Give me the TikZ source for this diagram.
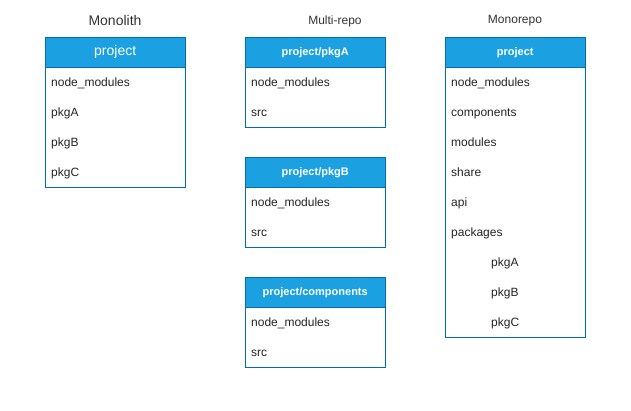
\documentclass[tikz,border=0pt]{standalone}
\usepackage{fontspec}
\setmainfont{Liberation Sans}
\usetikzlibrary{positioning}
\definecolor{lanefill}{HTML}{1BA1E2}
\definecolor{laneedge}{HTML}{006EAF}
\tikzset{
    caption/.style={inner sep=0pt, text=black!80, font=\fontsize{12}{14}\selectfont},
    lanehead/.style={rectangle, draw=laneedge, fill=lanefill, text=white, minimum width=140pt, minimum height=30pt, inner sep=0pt, font=\fontsize{11}{13}\selectfont\bfseries},
    lanebody/.style={rectangle, draw=laneedge, fill=white, minimum width=140pt, inner sep=0pt, anchor=north},
    entry/.style={anchor=base west, yshift=-4.3pt, inner sep=0pt, text=black!85, font=\fontsize{12}{14}\selectfont},
}
\newcommand{\drawLane}[5][]{
    % header at top-left corner #3, #4 rows below it
    \node[lanehead, anchor=north west, #1] (#2) at #3 {#5};
    \node[lanebody, minimum height=#4*30pt, below=0pt of #2] (#2body) {};
}

\begin{document}
\begin{tikzpicture}[x=1pt, y=-1pt]
    \useasboundingbox (0,0) rectangle (631,411);

    % Monolith
    \node[caption, font=\fontsize{14}{16}\selectfont] (monoTitle) at (115,21) {Monolith};
    \drawLane[font=\fontsize{14}{16}\selectfont]{mono}{(45,37)}{4}{project}
    \node[entry] (monoA) at (51,82) {node\_modules};
    \node[entry] (monoB) at (51,112) {pkgA};
    \node[entry] (monoC) at (51,142) {pkgB};
    \node[entry] (monoD) at (51,172) {pkgC};

    % Multi-repo
    \node[caption] (multiTitle) at (335,21) {Multi-repo};
    \drawLane{multiA}{(245,37)}{2}{project/pkgA}
    \node[entry] (multiAa) at (251,82) {node\_modules};
    \node[entry] (multiAb) at (251,112) {src};
    \drawLane{multiB}{(245,157)}{2}{project/pkgB}
    \node[entry] (multiBa) at (251,202) {node\_modules};
    \node[entry] (multiBb) at (251,232) {src};
    \drawLane{multiC}{(245,277)}{2}{project/components}
    \node[entry] (multiCa) at (251,322) {node\_modules};
    \node[entry] (multiCb) at (251,352) {src};

    % Monorepo
    \node[caption] (monorepoTitle) at (515,21) {Monorepo};
    \drawLane{repo}{(445,37)}{9}{project}
    \node[entry] (repoA) at (451,82) {node\_modules};
    \node[entry] (repoB) at (451,112) {components};
    \node[entry] (repoC) at (451,142) {modules};
    \node[entry] (repoD) at (451,172) {share};
    \node[entry] (repoE) at (451,202) {api};
    \node[entry] (repoF) at (451,232) {packages};
    \node[entry] (repoG) at (491,262) {pkgA};
    \node[entry] (repoH) at (491,292) {pkgB};
    \node[entry] (repoI) at (491,322) {pkgC};

\end{tikzpicture}
\end{document}
